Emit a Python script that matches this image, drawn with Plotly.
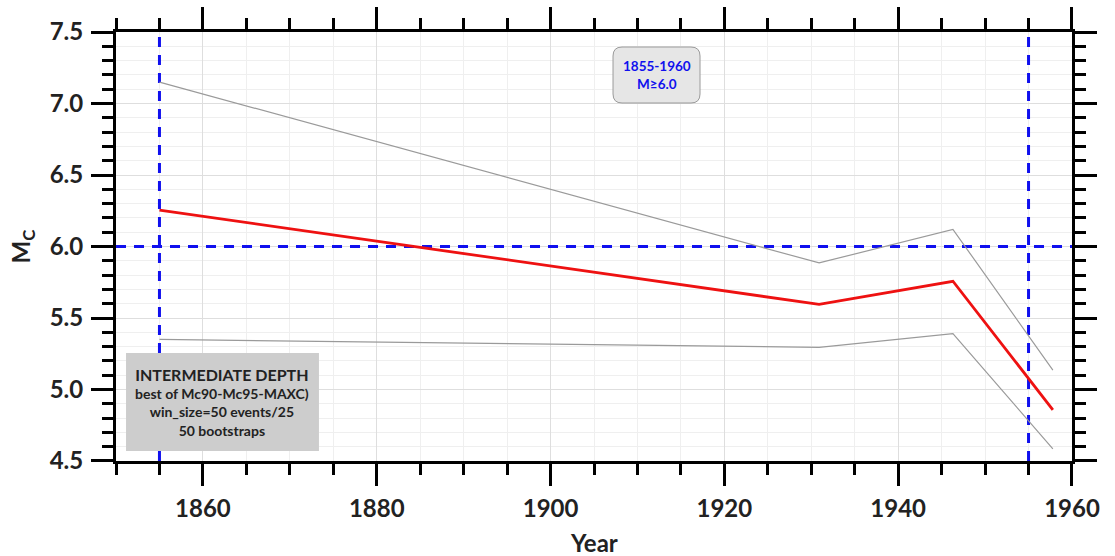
import plotly.graph_objects as go

# Magnitude of completeness over time (best of Mc90-Mc95-MAXC, bootstrap bounds)
years = [1855.0, 1930.9, 1946.3, 1957.8]
mc_best = [6.255, 5.595, 5.757, 4.858]
mc_upper = [7.150, 5.885, 6.120, 5.135]
mc_lower = [5.350, 5.295, 5.390, 4.585]

period_start = 1855
period_end = 1955
mag_threshold = 6.0

x_range = [1850, 1960]
y_range = [4.5, 7.5]

box_lines = ["INTERMEDIATE DEPTH", "best of Mc90-Mc95-MAXC)", "win_size=50 events/25", "50 bootstraps"]
period_lines = ["1855-1960", "M≥6.0"]

FONT = "Lato, 'Open Sans', sans-serif"
BLUE = "#1010ee"
DASH = "10px,8px"

fig = go.Figure()

# reference lines: period bounds and magnitude threshold
for xv in (period_start, period_end):
    fig.add_trace(go.Scatter(x=[xv, xv], y=y_range, mode="lines",
                             line=dict(color=BLUE, width=3, dash=DASH), showlegend=False))
fig.add_trace(go.Scatter(x=x_range, y=[mag_threshold, mag_threshold], mode="lines",
                         line=dict(color=BLUE, width=3, dash=DASH), showlegend=False))

fig.add_trace(go.Scatter(x=years, y=mc_upper, mode="lines",
                         line=dict(color="#9a9a9a", width=1.2), showlegend=False))
fig.add_trace(go.Scatter(x=years, y=mc_lower, mode="lines",
                         line=dict(color="#9a9a9a", width=1.2), showlegend=False))
fig.add_trace(go.Scatter(x=years, y=mc_best, mode="lines",
                         line=dict(color="#ee1111", width=2.8), showlegend=False))

# info box, lower left
fig.add_shape(type="rect", xref="paper", yref="paper", x0=0.0105, x1=0.2123, y0=0.0233, y1=0.2517,
              fillcolor="#cdcdcd", line=dict(width=0), layer="above")
fig.add_annotation(xref="paper", yref="paper", x=0.1114, y=0.137, xanchor="center", yanchor="middle",
                   showarrow=False,
                   text=("<span style='font-size:16px'>" + box_lines[0] + "</span><br>"
                         + "<br>".join(box_lines[1:])),
                   font=dict(family=FONT, size=14, color="#222222", weight="bold"),
                   align="center")

# period box, rounded corners
px0, px1, py0, py1 = 0.5199, 0.6109, 0.8345, 0.9650
rx, ry = 9 / 956, 9 / 429
path = (f"M {px0+rx},{py0} L {px1-rx},{py0} Q {px1},{py0} {px1},{py0+ry} "
        f"L {px1},{py1-ry} Q {px1},{py1} {px1-rx},{py1} L {px0+rx},{py1} "
        f"Q {px0},{py1} {px0},{py1-ry} L {px0},{py0+ry} Q {px0},{py0} {px0+rx},{py0} Z")
fig.add_shape(type="path", xref="paper", yref="paper", path=path,
              fillcolor="#e6e6e6", line=dict(color="#9a9a9a", width=1), layer="above")
fig.add_annotation(xref="paper", yref="paper", x=(px0 + px1) / 2, y=(py0 + py1) / 2,
                   xanchor="center", yanchor="middle",
                   showarrow=False, text="<br>".join(period_lines),
                   font=dict(family=FONT, size=13.5, color=BLUE, weight="bold"), align="center")

# axis titles
fig.add_annotation(xref="paper", yref="paper", x=0.5, y=0, yshift=-81,
                   xanchor="center", yanchor="middle", showarrow=False,
                   text="Year", font=dict(family=FONT, size=24, color="#222222", weight="bold"))
fig.add_annotation(xref="paper", yref="paper", x=0, y=0.5, xshift=-94,
                   xanchor="center", yanchor="middle", showarrow=False,
                   text="M<sub>C</sub>", textangle=-90,
                   font=dict(family=FONT, size=24, color="#222222", weight="bold"))

axis_common = dict(
    showline=True, linecolor="black", linewidth=3, mirror="ticks",
    ticks="outside", ticklen=22, tickwidth=3, tickcolor="black",
    showgrid=True, gridcolor="#dedede", gridwidth=1, zeroline=False,
    tickfont=dict(family=FONT, size=24, color="#222222", weight="bold"),
)

fig.update_xaxes(range=[x_range[0] - 0.001, x_range[1] + 0.001], tick0=1860, dtick=20,
                 ticklabelstandoff=2,
                 minor=dict(dtick=5, tick0=1850, ticklen=11, tickwidth=3, tickcolor="black",
                            ticks="outside", showgrid=True, gridcolor="#efefef", gridwidth=1),
                 **axis_common)
fig.update_yaxes(range=[y_range[0] - 0.0001, y_range[1] + 0.0001], tick0=4.5, dtick=0.5,
                 tickformat=".1f", ticklabelstandoff=3,
                 minor=dict(dtick=0.1, tick0=4.5, ticklen=11, tickwidth=3, tickcolor="black",
                            ticks="outside", showgrid=True, gridcolor="#efefef", gridwidth=1),
                 **axis_common)

fig.update_layout(
    width=1115, height=556,
    margin=dict(l=116, r=43, t=32, b=95, autoexpand=False),
    paper_bgcolor="white", plot_bgcolor="white",
    showlegend=False,
)

fig.write_html("out.html")
